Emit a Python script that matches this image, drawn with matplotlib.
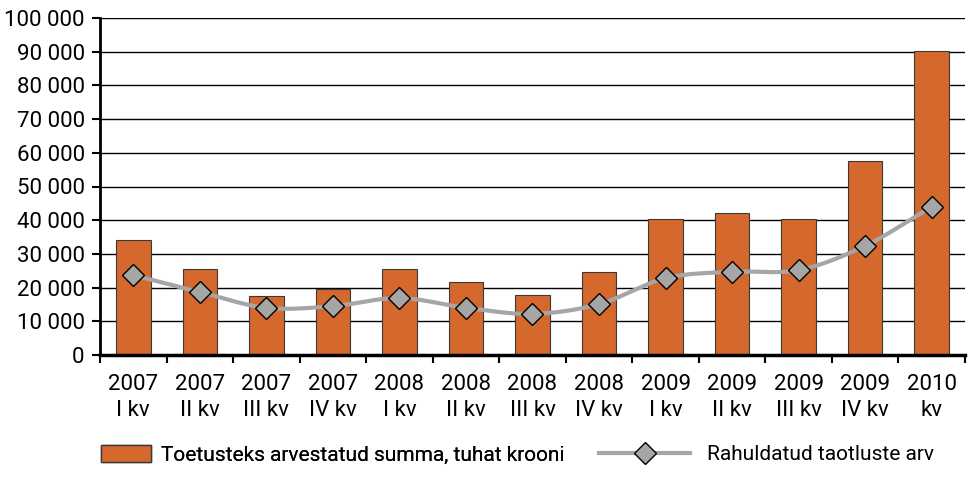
import numpy as np
import matplotlib
matplotlib.use("Agg")
import matplotlib.pyplot as plt
from matplotlib.lines import Line2D
from matplotlib.patches import Patch
from matplotlib.ticker import FuncFormatter, MultipleLocator

plt.rcParams['font.family'] = ['Roboto', 'DejaVu Sans']

categories = ["2007\nI kv", "2007\nII kv", "2007\nIII kv", "2007\nIV kv",
              "2008\nI kv", "2008\nII kv", "2008\nIII kv", "2008\nIV kv",
              "2009\nI kv", "2009\nII kv", "2009\nIII kv", "2009\nIV kv",
              "2010\nkv"]
summa = [34000, 25500, 17500, 19700, 25500, 21800, 17800, 24600,
         40500, 42200, 40500, 57700, 90300]
taotlused = [23700, 18700, 14000, 14500, 16900, 14000, 12200, 15100,
             22800, 24700, 25200, 32400, 44000]

bar_label = "Toetusteks arvestatud summa, tuhat krooni"
line_label = "Rahuldatud taotluste arv"

BAR_C = "#D5682C"
LINE_C = "#A6A6A6"

fig = plt.figure(figsize=(9.7, 4.91), dpi=100)
ax = fig.add_axes([100/970, 1-355/491, 865/970, 337/491])

x = np.arange(len(categories))
ax.bar(x, summa, width=0.52, color=BAR_C, edgecolor="#3a3a3a", linewidth=0.8, zorder=2)

# smooth line (Catmull-Rom through the data points, like Excel smoothed line)
def catmull(xs, ys, n=20):
    xs = np.asarray(xs, float); ys = np.asarray(ys, float)
    px = np.concatenate([[2*xs[0]-xs[1]], xs, [2*xs[-1]-xs[-2]]])
    py = np.concatenate([[2*ys[0]-ys[1]], ys, [2*ys[-1]-ys[-2]]])
    ox, oy = [], []
    for i in range(1, len(px)-2):
        t = np.linspace(0, 1, n, endpoint=False)
        for arr, out in ((px, ox), (py, oy)):
            p0, p1, p2, p3 = arr[i-1], arr[i], arr[i+1], arr[i+2]
            out.extend(0.5*((2*p1) + (-p0+p2)*t + (2*p0-5*p1+4*p2-p3)*t**2 + (-p0+3*p1-3*p2+p3)*t**3))
    ox.append(xs[-1]); oy.append(ys[-1])
    return np.array(ox), np.array(oy)

sx, sy = catmull(x, taotlused)
ax.plot(sx, sy, color=LINE_C, linewidth=3, zorder=3, solid_capstyle="round")
ax.plot(x, taotlused, linestyle="none", marker="D", markersize=11,
        markerfacecolor=LINE_C, markeredgecolor="black", markeredgewidth=1, zorder=4)

ax.set_xlim(-0.5, len(categories)-0.5)
ax.set_ylim(0, 100000)
ax.yaxis.set_major_locator(MultipleLocator(10000))
ax.yaxis.set_major_formatter(FuncFormatter(lambda v, p: f"{int(v):,}".replace(",", " ")))
ax.grid(axis="y", color="black", linewidth=1, zorder=0)
ax.set_axisbelow(True)

ax.set_xticks(x)
ax.set_xticklabels(categories, fontsize=16, linespacing=1.3)
ax.set_xticks(np.arange(-0.5, len(categories), 1), minor=True)
ax.tick_params(axis="x", which="major", length=0, pad=14)
ax.tick_params(axis="x", which="minor", length=6, width=1.5, direction="out")
ax.tick_params(axis="y", labelsize=16, length=6, width=1.5, direction="out", pad=5)

for s in ["top", "right"]:
    ax.spines[s].set_visible(False)
ax.spines["left"].set_linewidth(2)
ax.spines["bottom"].set_linewidth(2.5)

h_bar = [Patch(facecolor=BAR_C, edgecolor="#3a3a3a", label=bar_label)]
h_line = [Line2D([0], [0], color=LINE_C, linewidth=3, marker="D", markersize=11,
                 markerfacecolor=LINE_C, markeredgecolor="black", label=line_label)]
leg1 = fig.legend(handles=h_bar, loc="center left", bbox_to_anchor=(82/970, 1-455/491),
                  frameon=False, fontsize=15, handlelength=2.4, handleheight=0.9, handletextpad=0.5)
fig.add_artist(leg1)
fig.legend(handles=h_line, loc="center left", bbox_to_anchor=(580/970, 1-455/491),
           frameon=False, fontsize=15, handlelength=4.4, handletextpad=0.8)

fig.savefig("out.png", dpi=100)
